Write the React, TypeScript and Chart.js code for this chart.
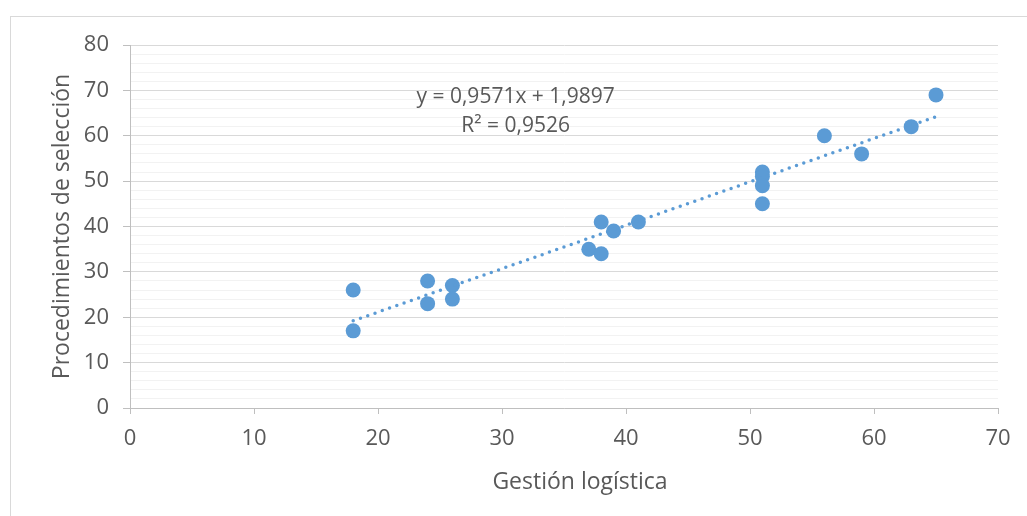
import { useEffect, useRef } from "react";
import { Chart, registerables } from "chart.js";

Chart.register(...registerables);

// Data
const gestionLogistica = [18, 18, 24, 24, 26, 26, 37, 38, 38, 39, 41, 51, 51, 51, 51, 56, 59, 63, 65];
const procedimientosSeleccion = [26, 17, 28, 23, 27, 24, 35, 41, 34, 39, 41, 52, 51, 49, 45, 60, 56, 62, 69];

// Linear trendline (as printed on the chart)
const trendSlope = 0.9571;
const trendIntercept = 1.9897;
const trendRange = [18, 65];
const equationLabel = "y = 0,9571x + 1,9897";
const r2Label = "R² = 0,9526";

const xTitle = "Gestión logística";
const yTitle = "Procedimientos de selección";

const xMin = 0, xMax = 70, xStep = 10;
const yMin = 0, yMax = 80, yStep = 2, yMajor = 10;

const FONT = "'Open Sans', 'DejaVu Sans', sans-serif";
const TEXT = "#595959";
const BLUE = "#5b9bd5";

export default function App() {
  const ref = useRef<HTMLCanvasElement | null>(null);

  useEffect(() => {
    const canvas = ref.current;
    if (!canvas) return;

    const points = gestionLogistica.map((x, i) => ({ x, y: procedimientosSeleccion[i] }));
    const trend = trendRange.map((x) => ({ x, y: trendSlope * x + trendIntercept }));

    const decor = {
      id: "decor",
      afterDraw(chart: any) {
        const c = chart.ctx;
        const xs = chart.scales.x;
        const ys = chart.scales.y;
        c.save();
        // outer chart border
        c.strokeStyle = "#d9d9d9";
        c.lineWidth = 1;
        c.strokeRect(10.5, 16.5, 1200, 700);
        // trendline label
        c.fillStyle = TEXT;
        c.textAlign = "center";
        c.textBaseline = "middle";
        c.font = `21px ${FONT}`;
        const lx = xs.getPixelForValue(31.1);
        c.fillText(equationLabel, lx, ys.getPixelForValue(68.5));
        c.fillText(r2Label, lx, ys.getPixelForValue(62.1));
        // axis titles
        c.font = `23px ${FONT}`;
        c.fillText(xTitle, 580, 482);
        c.save();
        c.translate(62, (ys.top + ys.bottom) / 2);
        c.rotate(-Math.PI / 2);
        c.fillText(yTitle, 0, 0);
        c.restore();
        c.restore();
      },
    };

    const chart = new Chart(canvas, {
      type: "scatter",
      data: {
        datasets: [
          {
            label: "Datos",
            data: points,
            backgroundColor: BLUE,
            borderColor: BLUE,
            borderWidth: 0,
            pointRadius: 7.5,
            order: 2,
          },
          {
            type: "line",
            label: "Tendencia",
            data: trend,
            borderColor: BLUE,
            borderWidth: 3.5,
            borderDash: [0, 7.7],
            borderCapStyle: "round",
            pointRadius: 0,
            fill: false,
            order: 1,
          } as any,
        ],
      },
      options: {
        responsive: false,
        animation: false,
        events: [],
        layout: { padding: { left: 0, top: 45, right: 29, bottom: 0 } },
        plugins: {
          legend: { display: false },
          tooltip: { enabled: false },
          title: { display: false },
        },
        scales: {
          x: {
            type: "linear",
            min: xMin,
            max: xMax,
            afterFit: (s: any) => {
              s.height = 108;
            },
            ticks: {
              stepSize: xStep,
              color: TEXT,
              font: { family: FONT, size: 22 },
              padding: 12,
              maxRotation: 0,
            },
            grid: {
              drawOnChartArea: false,
              drawTicks: true,
              tickLength: 6,
              tickColor: "#bfbfbf",
            },
            border: { color: "#bfbfbf", width: 1 },
          },
          y: {
            type: "linear",
            min: yMin,
            max: yMax,
            afterFit: (s: any) => {
              s.width = 130;
            },
            ticks: {
              stepSize: yStep,
              autoSkip: false,
              color: TEXT,
              font: { family: FONT, size: 22 },
              padding: 14,
              callback: (v: any) => (Number(v) % yMajor === 0 ? String(v) : ""),
            },
            grid: {
              color: (ctx: any) => (ctx.tick && ctx.tick.value % yMajor === 0 ? "#d9d9d9" : "#f2f2f2"),
              lineWidth: 1,
              drawTicks: true,
              tickLength: 7,
              tickColor: (ctx: any) => (ctx.tick && ctx.tick.value % yMajor === 0 ? "#bfbfbf" : "rgba(0,0,0,0)"),
            },
            border: { color: "#bfbfbf", width: 1 },
          },
        },
      },
      plugins: [decor],
    });

    return () => chart.destroy();
  }, []);

  return (
    <div style={{ position: "fixed", left: 0, top: 0, width: 1027, height: 516, background: "#fff" }}>
      <canvas ref={ref} width={1027} height={516} style={{ display: "block" }} />
    </div>
  );
}
